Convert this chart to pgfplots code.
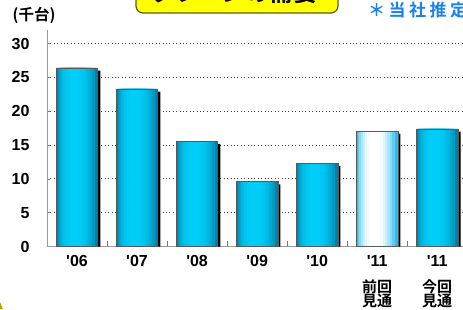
\documentclass[border=0pt]{standalone}
\usepackage{pgfplots}
\usepackage{pgfplotstable}
\pgfplotsset{compat=1.18}
\usepackage{fontspec}
\setmainfont{Liberation Sans}
\newfontfamily\cjk{Noto Sans CJK JP}[BoldFont={* Bold}]
\definecolor{barE}{RGB}{0,128,168}
\definecolor{barM}{RGB}{0,206,248}
\definecolor{preE}{RGB}{40,188,242}
\definecolor{noteblue}{RGB}{25,130,240}
\definecolor{boxyellow}{RGB}{255,255,0}
\definecolor{boxedge}{RGB}{90,90,20}
\definecolor{frameolive}{RGB}{170,170,0}
\pgfplotstableread{
x y
0 26.4
1 23.3
2 15.6
3 9.6
4 12.3
6 17.4
}\maindata
\pgfplotstableread{
x y
5 17.1
}\predata
\pgfplotstableread{
x y
0 26.0
1 22.9
2 15.2
3 9.2
4 11.9
5 16.7
6 17.0
}\shadowdata
\begin{document}
\begin{tikzpicture}[x=1pt,y=1pt]
\useasboundingbox (0,0) rectangle (463,309);
\clip (0,0) rectangle (463,309);
\fill[white] (0,0) rectangle (463,309);
\fill[frameolive] (0,0) -- (3,0) -- (0,7) -- cycle;
% title box
\draw[line width=1.2pt, draw=boxedge, fill=boxyellow, rounded corners=7pt] (136,296) rectangle (338,330);
\node[anchor=base east, inner sep=0pt, font=\cjk\bfseries\fontsize{24}{24}\selectfont] at (318,307.5) {クレーンの需要};
% notes
\node[anchor=west, inner sep=0pt, text=noteblue, font=\cjk\bfseries\fontsize{17}{17}\selectfont] at (368,299) {＊\hskip3.5pt 当\hskip3.5pt 社\hskip3.5pt 推\hskip3.5pt 定};
\node[anchor=center, inner sep=0pt, font=\cjk\bfseries\fontsize{15.5}{15.5}\selectfont] at (34,294) {(千台)};
\coordinate (axpos) at (47pt,62.3pt);
\begin{axis}[
  at={(axpos)}, anchor=south west,
  scale only axis, width=416pt, height=216.7pt,
  xmin=-0.5, xmax=6.43, ymin=0, ymax=32,
  axis x line*=bottom, axis y line*=left,
  axis line style={draw=black!40, line width=0.9pt},
  x axis line style={-}, y axis line style={-},
  ytick={0,5,...,30},
  ymajorgrids,
  major grid style={draw=black!75, line width=1pt, dash pattern=on 1pt off 2.4pt},
  ytick style={draw=black!50, line width=0.8pt},
  major tick length=3pt,
  tick align=inside,
  xtick={0,1,2,3,4,5,6},
  xticklabels={\textquotesingle06,\textquotesingle07,\textquotesingle08,\textquotesingle09,\textquotesingle10,\textquotesingle11,\textquotesingle11},
  minor xtick={0.5,1.5,2.5,3.5,4.5,5.5},
  minor tick length=6pt,
  xtick style={draw=none},
  minor x tick style={draw=black!55, line width=0.8pt},
  /pgf/number format/assume math mode=true,
  yticklabel style={font=\bfseries\fontsize{16}{16}\selectfont, xshift=-14pt},
  xticklabel style={font=\bfseries\fontsize{16}{16}\selectfont, yshift=-5pt},
  clip=false,
]
% shadows
\addplot[ybar, bar width=0.69, bar shift=2.6pt, fill=black, draw=none] table[x=x,y=y]{\shadowdata};
% main bars: nested layers for a gradient
\addplot[ybar, bar width=0.69, bar shift=0pt, draw=none, fill=barE] table[x=x,y=y]{\maindata};
\addplot[ybar, bar width=0.62, bar shift=-0.01, draw=none, fill=barM!30!barE] table[x=x,y=y]{\maindata};
\addplot[ybar, bar width=0.55, bar shift=-0.02, draw=none, fill=barM!52!barE] table[x=x,y=y]{\maindata};
\addplot[ybar, bar width=0.48, bar shift=-0.03, draw=none, fill=barM!68!barE] table[x=x,y=y]{\maindata};
\addplot[ybar, bar width=0.41, bar shift=-0.035, draw=none, fill=barM!80!barE] table[x=x,y=y]{\maindata};
\addplot[ybar, bar width=0.34, bar shift=-0.04, draw=none, fill=barM!89!barE] table[x=x,y=y]{\maindata};
\addplot[ybar, bar width=0.26, bar shift=-0.04, draw=none, fill=barM!95!barE] table[x=x,y=y]{\maindata};
\addplot[ybar, bar width=0.16, bar shift=-0.04, draw=none, fill=barM] table[x=x,y=y]{\maindata};
\addplot[ybar, bar width=0.69, bar shift=0pt, draw=black!65, line width=0.6pt, fill=none] table[x=x,y=y]{\maindata};
% previous-forecast bar
\addplot[ybar, bar width=0.69, bar shift=0pt, draw=none, fill=preE] table[x=x,y=y]{\predata};
\addplot[ybar, bar width=0.62, bar shift=-0.01, draw=none, fill=white!25!preE] table[x=x,y=y]{\predata};
\addplot[ybar, bar width=0.55, bar shift=-0.02, draw=none, fill=white!45!preE] table[x=x,y=y]{\predata};
\addplot[ybar, bar width=0.48, bar shift=-0.03, draw=none, fill=white!62!preE] table[x=x,y=y]{\predata};
\addplot[ybar, bar width=0.41, bar shift=-0.035, draw=none, fill=white!76!preE] table[x=x,y=y]{\predata};
\addplot[ybar, bar width=0.34, bar shift=-0.04, draw=none, fill=white!87!preE] table[x=x,y=y]{\predata};
\addplot[ybar, bar width=0.26, bar shift=-0.04, draw=none, fill=white!95!preE] table[x=x,y=y]{\predata};
\addplot[ybar, bar width=0.16, bar shift=-0.04, draw=none, fill=white] table[x=x,y=y]{\predata};
\addplot[ybar, bar width=0.69, bar shift=0pt, draw=black!65, line width=0.6pt, fill=none] table[x=x,y=y]{\predata};
\node[font=\cjk\bfseries\fontsize{15}{15}\selectfont, align=center, inner sep=0pt, anchor=north]
  at (axis cs:5,0) [yshift=-33pt] {前回\\[-1pt]見通};
\node[font=\cjk\bfseries\fontsize{15}{15}\selectfont, align=center, inner sep=0pt, anchor=north]
  at (axis cs:6,0) [yshift=-33pt] {今回\\[-1pt]見通};
\end{axis}
\end{tikzpicture}
\end{document}
